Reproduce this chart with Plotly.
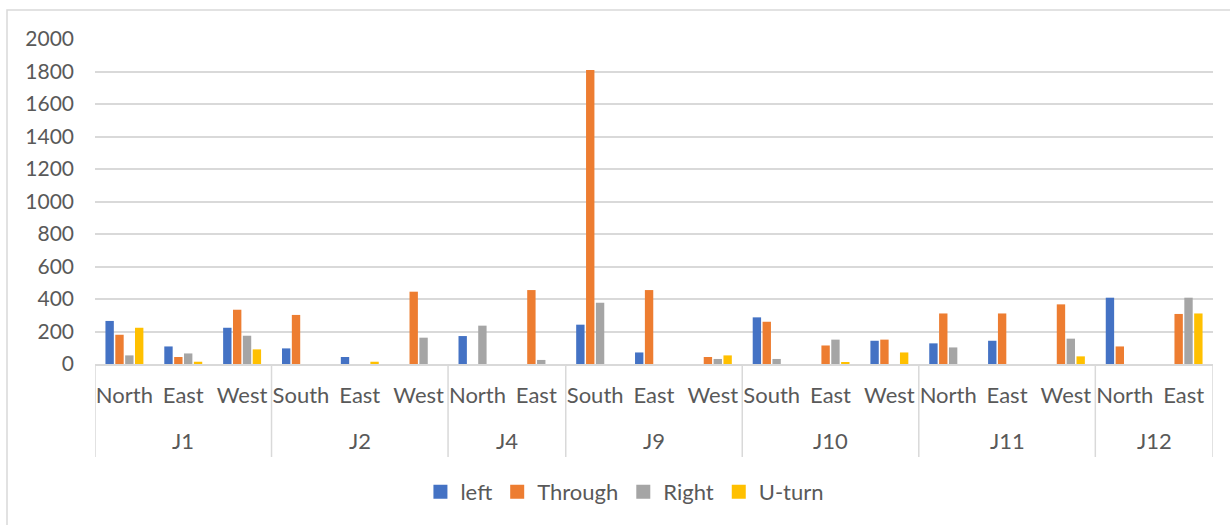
import plotly.graph_objects as go

# Junction / approach categories (two-level x axis)
junction_names = ["J1", "J2", "J4", "J9", "J10", "J11", "J12"]
junction_sizes = [3, 3, 2, 3, 3, 3, 2]
approaches = ["North", "East", "West", "South", "East", "West", "North", "East",
              "South", "East", "West", "South", "East", "West", "North", "East", "West",
              "North", "East"]

# Turning-movement volumes per approach
left_vals = [265, 108, 223, 96, 43, 0, 172, 0, 242, 71, 0, 287, 0, 143, 127, 143, 0, 408, 0]
through_vals = [180, 43, 334, 302, 0, 445, 0, 455, 1810, 455, 43, 260, 114, 150, 311, 311, 367, 108, 308]
right_vals = [53, 65, 174, 0, 0, 162, 236, 25, 377, 0, 31, 31, 150, 0, 102, 0, 156, 0, 408]
uturn_vals = [223, 14, 90, 0, 14, 0, 0, 0, 0, 0, 53, 0, 10, 71, 0, 0, 47, 0, 311]

series_names = ["left", "Through", "Right", "U-turn"]
series_colors = ["#4472C4", "#ED7D31", "#A5A5A5", "#FFC000"]
y_ticks = [0, 200, 400, 600, 800, 1000, 1200, 1400, 1600, 1800, 2000]

FONT = "Lato"
TEXT = "#595959"
GRID = "#D9D9D9"
SIZE = 22

W, H = 1230, 525
L, R, T, B = 95, 17, 39, 161
plot_h = H - T - B

positions = list(range(len(approaches)))

fig = go.Figure()
for name, vals, col in zip(series_names,
                           [left_vals, through_vals, right_vals, uturn_vals],
                           series_colors):
    fig.add_trace(go.Bar(
        x=positions, y=vals, name=name, showlegend=False,
        marker=dict(color=col, line=dict(width=0)),
    ))
# Square legend keys
for name, col in zip(series_names, series_colors):
    fig.add_trace(go.Scatter(
        x=[None], y=[None], mode="markers", name=name,
        marker=dict(symbol="square", size=14, color=col),
    ))

fig.update_layout(
    width=W, height=H,
    margin=dict(l=L, r=R, t=T, b=B),
    paper_bgcolor="white", plot_bgcolor="white",
    barmode="group", bargap=0.33, bargroupgap=0.15,
    font=dict(family=FONT, size=SIZE, color=TEXT),
    legend=dict(orientation="h", x=0.474, xanchor="center",
                y=-(492 - 364) / plot_h, yanchor="middle",
                font=dict(family=FONT, size=SIZE, color=TEXT),
                itemwidth=30, traceorder="normal"),
    showlegend=True,
)

fig.update_yaxes(
    range=[0, 2000], tickvals=y_ticks,
    showgrid=True, gridcolor=GRID, gridwidth=1.5,
    zeroline=False, showline=False,
    ticks="", ticklabelstandoff=20,
    tickfont=dict(family=FONT, size=21, color=TEXT),
)
fig.update_xaxes(
    range=[-0.5, len(approaches) - 0.5],
    tickvals=positions, ticktext=approaches, tickangle=0,
    showline=True, linecolor=GRID, linewidth=1.5,
    showgrid=False, zeroline=False,
    ticks="", ticklabelstandoff=11,
    tickfont=dict(family=FONT, size=SIZE, color=TEXT),
)

# Group labels and dividers below the axis
bottom_div = -(457 - 364) / plot_h
start = 0
edges = [-0.5]
for name, size in zip(junction_names, junction_sizes):
    center = start + (size - 1) / 2
    fig.add_annotation(x=center, xref="x", y=-(440 - 364) / plot_h, yref="paper",
                       text=name, showarrow=False, yanchor="middle",
                       font=dict(family=FONT, size=SIZE, color=TEXT))
    start += size
    edges.append(start - 0.5)
for e in edges:
    fig.add_shape(type="line", xref="x", yref="paper", x0=e, x1=e,
                  y0=0, y1=bottom_div, line=dict(color=GRID, width=1.5))

# Chart-area border
fig.add_shape(type="rect", xref="paper", yref="paper",
              x0=-(L - 7) / (W - L - R), x1=1.05, y0=-1.0, y1=(H - B - 10) / plot_h,
              line=dict(color=GRID, width=1.5), fillcolor="rgba(0,0,0,0)", layer="below")

fig.write_html("out.html")
